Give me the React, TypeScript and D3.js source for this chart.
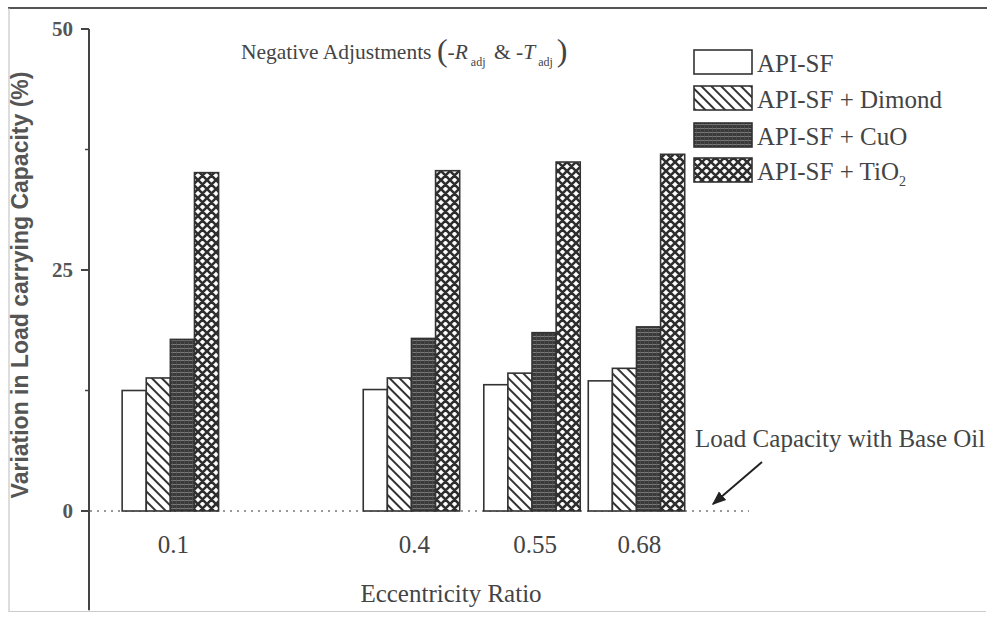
import React, { useEffect, useRef } from 'react';
import * as d3 from 'd3';

// eccentricity ratios on the x axis
const ratios = [0.1, 0.4, 0.55, 0.68];
const seriesNames = ['API-SF', 'API-SF + Dimond', 'API-SF + CuO', 'API-SF + TiO'];
const seriesKeys = ['plain', 'diag', 'dense', 'cross'];
// variation in load carrying capacity (%) for each ratio
const apiSF = [12.5, 12.6, 13.1, 13.5];
const apiSFDimond = [13.8, 13.8, 14.3, 14.8];
const apiSFCuO = [17.8, 17.9, 18.5, 19.1];
const apiSFTiO2 = [35.1, 35.3, 36.2, 37.0];
const yTicks = [0, 25, 50];
const yMinorTicks = [12.5, 37.5];

const seriesValues = [apiSF, apiSFDimond, apiSFCuO, apiSFTiO2];

const W = 987,
  H = 622;
const serif = "'Liberation Serif', 'DejaVu Serif', serif";

const drawChart = (el: SVGSVGElement) => {
  const svg = d3.select(el);
  svg.selectAll('*').remove();

  const x = d3.scaleLinear().domain([0, 0.82]).range([90, 749]);
  const y = d3.scaleLinear().domain([0, 50]).range([511, 29]);
  const yBottom = y(-10.3);
  const barW = 0.03; // in eccentricity units

  // patterns
  const defs = svg.append('defs');
  const diag = defs
    .append('pattern')
    .attr('id', 'diag')
    .attr('patternUnits', 'userSpaceOnUse')
    .attr('width', 7)
    .attr('height', 7)
    .attr('patternTransform', 'rotate(-45)');
  diag.append('rect').attr('width', 7).attr('height', 7).attr('fill', '#fff');
  diag.append('line').attr('x1', 1).attr('y1', 0).attr('x2', 1).attr('y2', 7)
    .attr('stroke', '#333').attr('stroke-width', 2);

  const dense = defs
    .append('pattern')
    .attr('id', 'dense')
    .attr('patternUnits', 'userSpaceOnUse')
    .attr('width', 4)
    .attr('height', 4);
  dense.append('rect').attr('width', 4).attr('height', 4).attr('fill', '#3a3a3a');
  dense.append('line').attr('x1', 0).attr('y1', 0.5).attr('x2', 4).attr('y2', 0.5)
    .attr('stroke', '#7a7a7a').attr('stroke-width', 1);
  dense.append('line').attr('x1', 0.5).attr('y1', 0).attr('x2', 0.5).attr('y2', 4)
    .attr('stroke', '#555').attr('stroke-width', 0.6);

  const cross = defs
    .append('pattern')
    .attr('id', 'cross')
    .attr('patternUnits', 'userSpaceOnUse')
    .attr('width', 9)
    .attr('height', 9);
  cross.append('rect').attr('width', 9).attr('height', 9).attr('fill', '#fff');
  cross.append('path').attr('d', 'M0,0L9,9M9,0L0,9M-1,8L1,10M8,-1L10,1')
    .attr('stroke', '#2e2e2e').attr('stroke-width', 2.6);

  const fillFor = (k: string) => (k === 'plain' ? '#fff' : `url(#${k})`);

  // frame
  svg.append('line').attr('x1', 8).attr('x2', 987).attr('y1', 8).attr('y2', 8)
    .attr('stroke', '#555').attr('stroke-width', 2);
  svg.append('line').attr('x1', 9).attr('x2', 9).attr('y1', 8).attr('y2', 612)
    .attr('stroke', '#bbb').attr('stroke-width', 1);
  svg.append('line').attr('x1', 9).attr('x2', 986).attr('y1', 611.5).attr('y2', 611.5)
    .attr('stroke', '#ccc').attr('stroke-width', 1);

  // zero reference line (dotted)
  svg.append('line')
    .attr('x1', x(0)).attr('x2', x(0.82))
    .attr('y1', y(0)).attr('y2', y(0))
    .attr('stroke', '#999').attr('stroke-width', 2)
    .attr('stroke-dasharray', '2,5');

  // bars
  ratios.forEach((r, i) => {
    seriesValues.forEach((vals, s) => {
      const x0 = x(r - 2 * barW + s * barW);
      const x1 = x(r - 2 * barW + (s + 1) * barW);
      svg.append('rect')
        .attr('x', x0)
        .attr('y', y(vals[i]))
        .attr('width', x1 - x0)
        .attr('height', y(0) - y(vals[i]))
        .attr('fill', fillFor(seriesKeys[s]))
        .attr('stroke', '#333')
        .attr('stroke-width', 1.6);
    });
  });

  // y axis
  const axisX = 89;
  svg.append('line').attr('x1', axisX).attr('x2', axisX).attr('y1', y(50)).attr('y2', yBottom)
    .attr('stroke', '#444').attr('stroke-width', 2);
  yTicks.forEach(t => {
    svg.append('line').attr('x1', axisX - 8).attr('x2', axisX).attr('y1', y(t)).attr('y2', y(t))
      .attr('stroke', '#444').attr('stroke-width', 2);
    svg.append('text')
      .attr('x', axisX - 16).attr('y', y(t)).attr('dy', '0.35em')
      .attr('text-anchor', 'end')
      .style('font-family', serif).style('font-size', '21px').style('font-weight', 'bold')
      .attr('fill', '#555')
      .text(t);
  });
  yMinorTicks.forEach(t => {
    svg.append('line').attr('x1', axisX - 4).attr('x2', axisX).attr('y1', y(t)).attr('y2', y(t))
      .attr('stroke', '#444').attr('stroke-width', 1.5);
  });

  // y title
  svg.append('text')
    .attr('transform', `translate(28,${285}) rotate(-90)`)
    .attr('text-anchor', 'middle')
    .style('font-family', "'Liberation Sans', Arial, sans-serif")
    .style('font-size', '23px').style('font-weight', 'bold')
    .attr('fill', '#555')
    .text('Variation in Load carrying Capacity (%)');

  // x tick labels
  ratios.forEach(r => {
    svg.append('text')
      .attr('x', x(r) + 3).attr('y', 553)
      .attr('text-anchor', 'middle')
      .style('font-family', serif).style('font-size', '25px')
      .attr('fill', '#444')
      .text(String(r));
  });

  // x title
  svg.append('text')
    .attr('x', 451).attr('y', 602)
    .attr('text-anchor', 'middle')
    .style('font-family', serif).style('font-size', '25px')
    .attr('fill', '#444')
    .text('Eccentricity Ratio');

  // chart title
  const title = svg.append('text')
    .attr('x', 241).attr('y', 59)
    .style('font-family', serif).style('font-size', '21.5px')
    .attr('fill', '#444');
  title.append('tspan').text('Negative Adjustments ');
  title.append('tspan').style('font-size', '32px').attr('dy', 2).text('(');
  title.append('tspan').attr('dy', -2).text('-');
  title.append('tspan').style('font-style', 'italic').text('R');
  title.append('tspan').style('font-size', '12px').attr('dy', 7).attr('dx', 3).text('adj');
  title.append('tspan').attr('dy', -7).attr('dx', 3).text(' & -');
  title.append('tspan').style('font-style', 'italic').text('T');
  title.append('tspan').style('font-size', '12px').attr('dy', 7).attr('dx', 3).text('adj');
  title.append('tspan').style('font-size', '32px').attr('dy', -5).attr('dx', 4).text(')');

  // legend
  const legY = [50, 86, 123, 158];
  seriesNames.forEach((name, s) => {
    svg.append('rect')
      .attr('x', 694).attr('y', legY[s])
      .attr('width', 58).attr('height', 24)
      .attr('fill', fillFor(seriesKeys[s]))
      .attr('stroke', '#333').attr('stroke-width', 1.6);
    const t = svg.append('text')
      .attr('x', 757).attr('y', legY[s] + 22)
      .style('font-family', serif).style('font-size', '25px')
      .attr('fill', '#444');
    t.append('tspan').text(name);
    if (s === 3) {
      t.append('tspan').style('font-size', '14px').attr('dy', 6).text('2');
    }
  });

  // annotation
  svg.append('text')
    .attr('x', 695).attr('y', 447)
    .style('font-family', serif).style('font-size', '25px')
    .attr('fill', '#444')
    .text('Load Capacity with Base Oil');
  defs.append('marker')
    .attr('id', 'arrow')
    .attr('viewBox', '0 0 10 10')
    .attr('refX', 9).attr('refY', 5)
    .attr('markerWidth', 7).attr('markerHeight', 7)
    .attr('orient', 'auto')
    .append('path').attr('d', 'M0,1L10,5L0,9Z').attr('fill', '#222');
  svg.append('line')
    .attr('x1', 762).attr('y1', 462).attr('x2', 713).attr('y2', 504)
    .attr('stroke', '#222').attr('stroke-width', 2)
    .attr('marker-end', 'url(#arrow)');
};

export default function App() {
  const ref = useRef<SVGSVGElement>(null);
  useEffect(() => {
    if (ref.current) drawChart(ref.current);
  }, []);
  return (
    <svg
      ref={ref}
      width={W}
      height={H}
      style={{ position: 'absolute', left: 0, top: 0, background: '#fff' }}
    />
  );
}
